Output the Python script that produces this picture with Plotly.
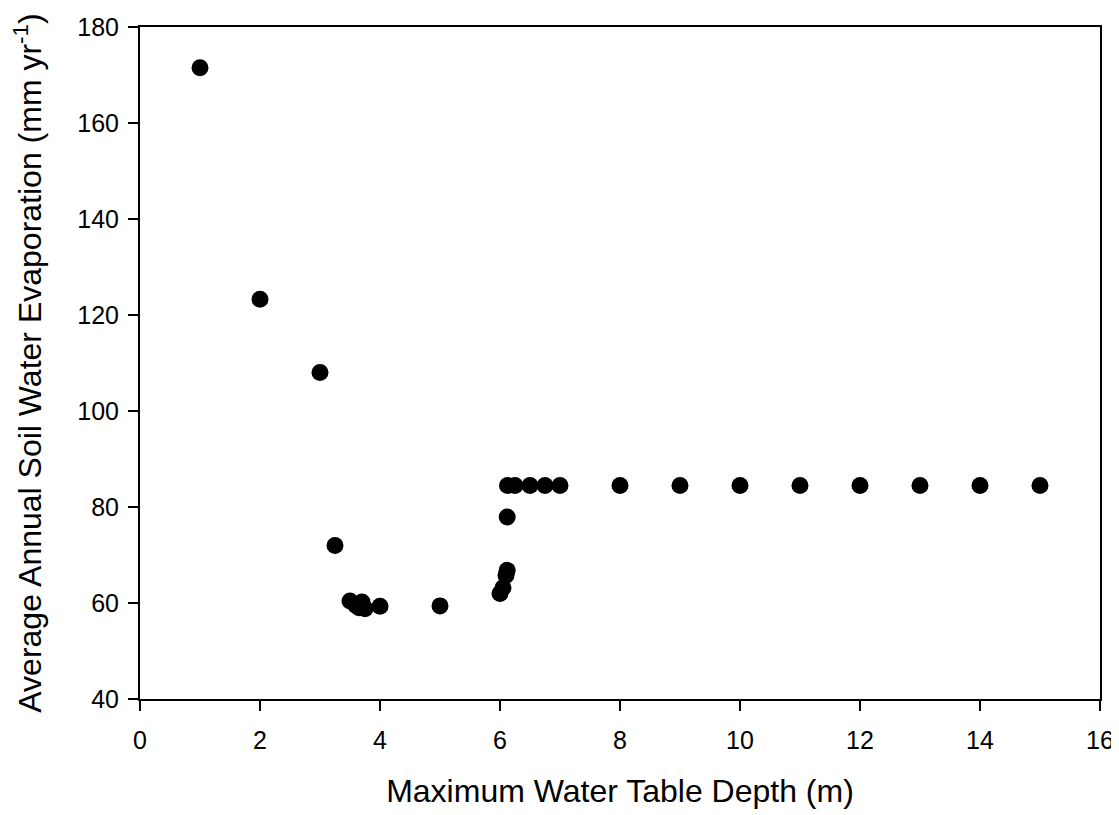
import plotly.graph_objects as go

depth = [1, 2, 3, 3.25, 3.5, 3.6, 3.65, 3.7, 3.75, 4, 5,
         6.0, 6.05, 6.1, 6.12, 6.12, 6.125, 6.25, 6.5, 6.75, 7,
         8, 9, 10, 11, 12, 13, 14, 15]
evap = [171.5, 123.3, 108.0, 72.0, 60.4, 59.5, 59.0, 60.2, 58.8, 59.3, 59.4,
        62.0, 63.2, 65.8, 66.8, 77.9, 84.5, 84.5, 84.5, 84.5, 84.5,
        84.5, 84.5, 84.5, 84.5, 84.5, 84.5, 84.5, 84.5]

x_ticks = list(range(0, 17, 2))
y_ticks = list(range(40, 181, 20))

fig = go.Figure()
fig.add_trace(go.Scatter(
    x=depth, y=evap, mode="markers",
    marker=dict(size=17, color="black", line=dict(width=0)),
    showlegend=False,
))

font = "Arial, Liberation Sans, sans-serif"
axis_common = dict(
    showline=True, linecolor="black", linewidth=2, mirror=True,
    ticks="outside", ticklen=10, tickwidth=2, tickcolor="black",
    showgrid=False, zeroline=False,
    tickfont=dict(family=font, size=25, color="black"),
)
fig.update_xaxes(range=[0, 16], tickvals=x_ticks,
                 title=dict(text="Maximum Water Table Depth (m)",
                            font=dict(family=font, size=32, color="black"), standoff=27),
                 ticklabelstandoff=8, **axis_common)
fig.update_yaxes(range=[40, 180], tickvals=y_ticks,
                 title=dict(text="Average Annual Soil Water Evaporation (mm yr<sup>-1</sup>)",
                            font=dict(family=font, size=32, color="black"), standoff=26),
                 ticklabelstandoff=4, **axis_common)
# the page body adds an 8px offset; compensate so the plot area sits at x 140-1100, y 27-699
fig.update_layout(
    width=1111, height=807,
    margin=dict(l=132, r=19, t=19, b=116, autoexpand=False),
    paper_bgcolor="white", plot_bgcolor="white",
)
fig.write_html("out.html")
